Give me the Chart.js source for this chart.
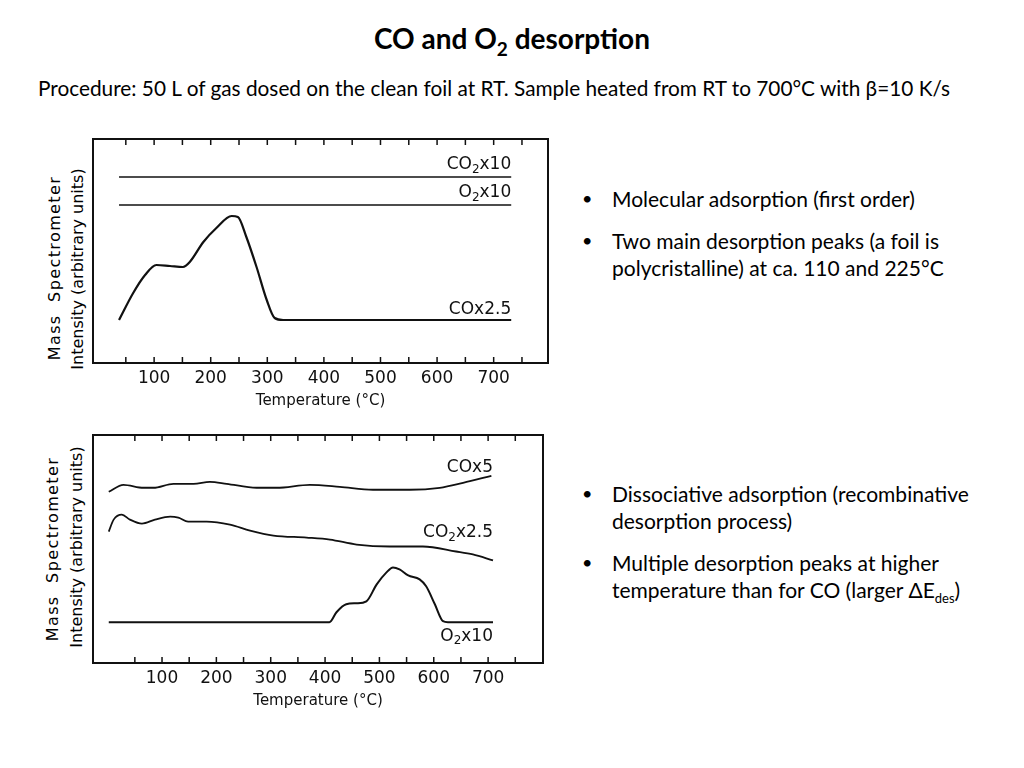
<!DOCTYPE html>
<html>
<head>
<meta charset="utf-8">
<script src="https://cdn.jsdelivr.net/npm/chart.js@4.4.1/dist/chart.umd.min.js"></script>
<style>
  body { margin: 0; width: 1024px; height: 768px; background: #fff; position: relative; overflow: hidden;
         font-family: Lato, "Open Sans", sans-serif; color: #000; }
  .abs { position: absolute; white-space: nowrap; }
  #title { left: 0; width: 1024px; top: 22px; text-align: center; font-weight: bold; font-size: 28px; line-height: 32px; }
  #proc { left: 38px; top: 74px; font-size: 20.8px; line-height: 28px; }
  .bullet { font-size: 21px; line-height: 27px; left: 582px; }
  .bullet span.dot { position: absolute; left: 0; font-size: 18px; }
  .bullet div { margin-left: 30px; }
  .ytitle { font-family: "DejaVu Sans", sans-serif; font-size: 16px; line-height: 20px; height: 20px; text-align: center;
            transform: rotate(-90deg); transform-origin: 50% 50%; }
  .wide { letter-spacing: 1.4px; word-spacing: 6px; }
  canvas { position: absolute; }
</style>
</head>
<body>
<div id="title" class="abs">CO and O<sub style="font-size:19px">2</sub> desorption</div>
<div id="proc" class="abs">Procedure: 50 L of gas dosed on the clean foil at RT. Sample heated from RT to 700°C with β=10 K/s</div>

<div class="abs bullet" style="top:185px"><span class="dot">•</span><div>Molecular adsorption (first order)</div></div>
<div class="abs bullet" style="top:227px"><span class="dot">•</span><div>Two main desorption peaks (a foil is<br>polycristalline) at ca. 110 and 225°C</div></div>
<div class="abs bullet" style="top:480px"><span class="dot">•</span><div>Dissociative adsorption (recombinative<br>desorption process)</div></div>
<div class="abs bullet" style="top:549px"><span class="dot">•</span><div>Multiple desorption peaks at higher<br>temperature than for CO (larger ΔE<sub style="font-size:13px">des</sub>)</div></div>

<div class="abs ytitle wide" style="left:-45px; top:258px; width:200px">Mass Spectrometer</div>
<div class="abs ytitle" style="left:-32px; top:259px; width:220px">Intensity (arbitrary units)</div>
<div class="abs ytitle wide" style="left:-47px; top:539px; width:200px">Mass Spectrometer</div>
<div class="abs ytitle" style="left:-33px; top:537px; width:220px">Intensity (arbitrary units)</div>

<canvas id="chartCO" width="520" height="283" style="left:40px; top:130px"></canvas>
<canvas id="chartO2" width="520" height="288" style="left:40px; top:425px"></canvas>

<script>
// tick labels (°C)
const xTickLabels = [100, 200, 300, 400, 500, 600, 700];

// --- CO adsorption (upper panel), signal in arbitrary units ---
const co2x10Temp = [38, 731];
const co2x10Signal = [186, 186];
const o2x10Temp = [38, 731];
const o2x10Signal = [158, 158];
const coTemp = [38, 63, 84, 104, 128, 151, 163, 187, 210, 237, 248, 263, 281, 299, 313, 328, 731];
const coSignal = [43, 70, 88, 98, 97, 96, 101, 121, 135, 147, 146, 126, 96, 63, 45, 43, 43];

// --- O2 adsorption (lower panel) ---
const cox5Temp = [2, 29, 66, 84, 121, 158, 188, 219, 274, 311, 372, 427, 488, 556, 611, 654, 706];
const cox5Signal = [172, 179, 176, 176, 180, 180, 182, 180, 176, 176, 179, 177, 174, 174, 176, 181, 188];
const co2x25Temp = [2, 11, 26, 41, 63, 87, 115, 130, 148, 182, 225, 262, 305, 366, 409, 458, 519, 580, 641, 672, 709];
const co2x25Signal = [132, 144, 149, 144, 140, 144, 147, 146, 142, 142, 139, 133, 128, 126, 124, 119, 117, 117, 112, 109, 103];
const o2Temp = [2, 408, 421, 439, 458, 476, 495, 513, 525, 537, 553, 574, 586, 602, 617, 626, 709];
const o2Signal = [41, 41, 51, 59, 60, 62, 79, 91, 96, 94, 88, 84, 77, 59, 42, 41, 41];

function punkte(xs, ys) {
  return xs.map((x, i) => ({ x: x, y: ys[i] }));
}

function serie(xs, ys, breite) {
  return {
    data: punkte(xs, ys),
    borderColor: '#111',
    borderWidth: breite,
    pointRadius: 0,
    cubicInterpolationMode: 'monotone',
    fill: false
  };
}

// frame + inward tick marks
const rahmen = {
  id: 'rahmen',
  afterDraw(chart) {
    const { ctx, chartArea: a, scales } = chart;
    ctx.save();
    ctx.strokeStyle = '#111';
    ctx.lineWidth = 2;
    ctx.strokeRect(a.left, a.top, a.right - a.left, a.bottom - a.top);
    ctx.lineWidth = 1.5;
    for (let t = 50; t <= 750; t += 50) {
      const px = scales.x.getPixelForValue(t);
      ctx.beginPath();
      ctx.moveTo(px, a.top); ctx.lineTo(px, a.top + 6);
      ctx.moveTo(px, a.bottom); ctx.lineTo(px, a.bottom - 6);
      ctx.stroke();
    }
    ctx.restore();
  }
};

// curve labels with subscripts
const beschriftung = {
  id: 'beschriftung',
  afterDraw(chart, args, opts) {
    const { ctx, scales } = chart;
    ctx.save();
    ctx.fillStyle = '#111';
    ctx.textBaseline = 'middle';
    opts.items.forEach(item => {
      const big = '17px "DejaVu Sans"', small = '12px "DejaVu Sans"';
      let w = 0;
      item.parts.forEach(p => { ctx.font = p.sub ? small : big; w += ctx.measureText(p.t).width; });
      let x = scales.x.getPixelForValue(item.x) - w;
      const y = scales.y.getPixelForValue(item.y);
      item.parts.forEach(p => {
        ctx.font = p.sub ? small : big;
        ctx.fillText(p.t, x, p.sub ? y + 5 : y);
        x += ctx.measureText(p.t).width;
      });
    });
    ctx.restore();
  }
};

function diagramm(id, datasets, xMin, xMax, yMax, pad, labels) {
  return new Chart(document.getElementById(id), {
    type: 'line',
    data: { datasets: datasets },
    options: {
      responsive: false,
      animation: false,
      layout: { padding: pad },
      plugins: {
        legend: { display: false },
        tooltip: { enabled: false },
        beschriftung: { items: labels }
      },
      scales: {
        x: {
          type: 'linear', min: xMin, max: xMax,
          afterBuildTicks: s => { s.ticks = xTickLabels.map(v => ({ value: v })); },
          grid: { display: false, drawTicks: false },
          border: { display: false },
          ticks: { color: '#111', padding: 7, font: { family: 'DejaVu Sans', size: 17, lineHeight: 1.0 } },
          title: { display: true, text: 'Temperature (°C)', color: '#111', padding: { top: 0, bottom: 0 },
                   font: { family: 'DejaVu Sans', size: 15, lineHeight: 1.0 } }
        },
        y: { display: false, min: 0, max: yMax }
      }
    },
    plugins: [rahmen, beschriftung]
  });
}

diagramm('chartCO',
  [serie(co2x10Temp, co2x10Signal, 1.5), serie(o2x10Temp, o2x10Signal, 1.5), serie(coTemp, coSignal, 2.2)],
  -8, 796, 224, { left: 53, right: 12, top: 9, bottom: 4 },
  [
    { x: 731, y: 198, parts: [{ t: 'CO' }, { t: '2', sub: true }, { t: 'x10' }] },
    { x: 731, y: 170, parts: [{ t: 'O' }, { t: '2', sub: true }, { t: 'x10' }] },
    { x: 731, y: 53, parts: [{ t: 'COx2.5' }] }
  ]);

diagramm('chartO2',
  [serie(cox5Temp, cox5Signal, 1.8), serie(co2x25Temp, co2x25Signal, 1.8), serie(o2Temp, o2Signal, 2)],
  -27, 801, 229, { left: 53, right: 17, top: 10, bottom: 4 },
  [
    { x: 709, y: 196, parts: [{ t: 'COx5' }] },
    { x: 709, y: 131, parts: [{ t: 'CO' }, { t: '2', sub: true }, { t: 'x2.5' }] },
    { x: 709, y: 27, parts: [{ t: 'O' }, { t: '2', sub: true }, { t: 'x10' }] }
  ]);
</script>
</body>
</html>
